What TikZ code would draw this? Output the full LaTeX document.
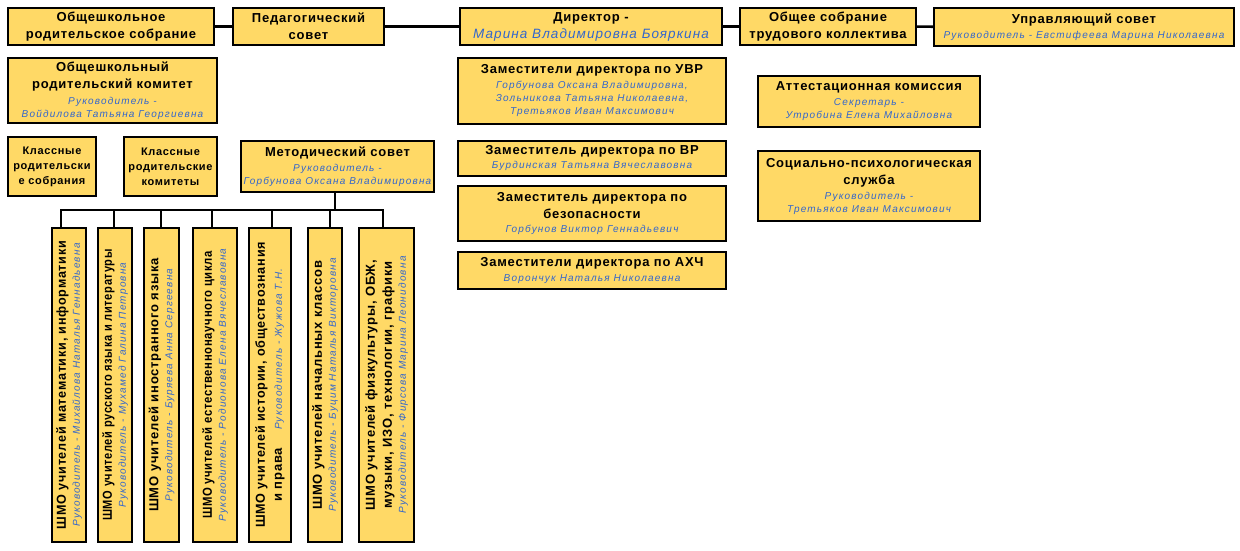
\documentclass[tikz,border=0pt]{standalone}
\usepackage{fontspec}
\usepackage{graphicx}
\setmainfont{Liberation Sans}
\newfontfamily\tfont[LetterSpace=6]{Liberation Sans}
\newfontfamily\bfont[LetterSpace=12]{Liberation Sans}
\newfontfamily\dfont[LetterSpace=8]{Liberation Sans}
\definecolor{boxfill}{RGB}{255,217,102}
\definecolor{nm}{RGB}{51,102,204}
\newcommand\bl[1]{{\bfont\mdseries\itshape\fontsize{10}{13}\selectfont\color{nm}#1}}
\newcommand\dname[1]{{\dfont\mdseries\itshape\fontsize{13.5}{17}\selectfont\color{nm}#1}}
\tikzset{
  box/.style={draw=black, line width=2.2pt, fill=boxfill, inner sep=0pt, align=center,
    font=\tfont\bfseries\fontsize{13}{17}\selectfont},
  sbox/.style={box, font=\tfont\bfseries\fontsize{11}{15}\selectfont},
  vtext/.style={rotate=90, inner sep=0pt, align=center,
    font=\tfont\bfseries\fontsize{13}{17}\selectfont},
  conn/.style={line width=2.6pt}
}
\begin{document}
\begin{tikzpicture}[x=1pt,y=-1pt]
\useasboundingbox (0,0) rectangle (1240,551);
\fill[white] (0,0) rectangle (1240,551);

% top row
\node[box, minimum width=206pt, minimum height=37pt] (ors) at (111,26.5) {Общешкольное\\родительское собрание};
\node[box, minimum width=151pt, minimum height=37pt] (ped) at (308.5,26.5) {Педагогический\\совет};
\node[box, minimum width=262pt, minimum height=37pt] (dir) at (591,26.5) {Директор -\\\dname{Марина Владимировна Бояркина}};
\node[box, minimum width=176pt, minimum height=37pt] (osk) at (828,26.5) {Общее собрание\\трудового коллектива};
\node[box, minimum width=300pt, minimum height=38pt] (us) at (1084,27) {Управляющий совет\\[-2pt]\bl{Руководитель - Евстифеева Марина Николаевна}};

\draw[conn] (ors) -- (ped);
\draw[conn] (ped) -- (dir);
\draw[conn] (dir) -- (osk);
\draw[conn] (osk) -- (us);

% left column
\node[box, minimum width=209pt, minimum height=65pt] (ork) at (112.5,90.5) {Общешкольный\\родительский комитет\\[-1pt]\bl{Руководитель -}\\[-4pt]\bl{Войдилова Татьяна Георгиевна}};
\node[sbox, minimum width=88pt, minimum height=59pt] (krs) at (52,166.5) {Классные\\родительски\\е собрания};
\node[sbox, minimum width=93pt, minimum height=59pt] (krk) at (170.5,166.5) {Классные\\родительские\\комитеты};
\node[box, minimum width=193pt, minimum height=51pt] (ms) at (337.5,166.5) {Методический совет\\[-2pt]\bl{Руководитель -}\\[-4pt]\bl{Горбунова Оксана Владимировна}};

% deputies
\node[box, minimum width=268pt, minimum height=66pt] (uvr) at (592,91) {Заместители директора по УВР\\[-2pt]\bl{Горбунова Оксана Владимировна,}\\[-4pt]\bl{Зольникова Татьяна Николаевна,}\\[-4pt]\bl{Третьяков Иван Максимович}};
\node[box, minimum width=268pt, minimum height=35pt] (vr) at (592,158.5) {Заместитель директора по ВР\\[-3pt]\bl{Бурдинская Татьяна Вячеславовна}};
\node[box, minimum width=268pt, minimum height=55pt] (bez) at (592,213.5) {Заместитель директора по\\безопасности\\[-3pt]\bl{Горбунов Виктор Геннадьевич}};
\node[box, minimum width=268pt, minimum height=37pt] (ahch) at (592,270.5) {Заместители директора по АХЧ\\[-3pt]\bl{Ворончук Наталья Николаевна}};

% right column
\node[box, minimum width=222pt, minimum height=51pt] (att) at (869,101.5) {Аттестационная комиссия\\[-2pt]\bl{Секретарь -}\\[-4pt]\bl{Утробина Елена Михайловна}};
\node[box, minimum width=222pt, minimum height=70pt] (spc) at (869,186) {Социально-психологическая\\служба\\[-2pt]\bl{Руководитель -}\\[-4pt]\bl{Третьяков Иван Максимович}};

% ШМО boxes
\node[box, minimum width=34pt, minimum height=314pt] (s1) at (69,385) {};
\node[box, minimum width=34pt, minimum height=314pt] (s2) at (115,385) {};
\node[box, minimum width=35pt, minimum height=314pt] (s3) at (161.5,385) {};
\node[box, minimum width=44pt, minimum height=314pt] (s4) at (215,385) {};
\node[box, minimum width=42pt, minimum height=314pt] (s5) at (270,385) {};
\node[box, minimum width=34pt, minimum height=314pt] (s6) at (325,385) {};
\node[box, minimum width=55pt, minimum height=314pt] (s7) at (386.5,385) {};

\node[vtext] (t1) at (s1) {\scalebox{0.97}[1]{ШМО учителей математики, информатики}\\[-3pt]\bl{Руководитель - Михайлова Наталья Геннадьевна}};
\node[vtext] (t2) at (s2) {\scalebox{0.85}[1]{ШМО учителей русского языка и литературы}\\[-3pt]\bl{Руководитель - Мухамед Галина Петровна}};
\node[vtext] (t3) at (s3) {ШМО учителей иностранного языка\\[-3pt]\bl{Руководитель - Буряева Анна Сергеевна}};
\node[vtext] (t4) at (s4) {\scalebox{0.87}[1]{ШМО учителей естественнонаучного цикла}\\[-3pt]\bl{Руководитель - Родионова Елена Вячеславовна}};
\node[vtext] (t5) at (s5) {\scalebox{0.97}[1]{ШМО учителей истории, обществознания}\\и права\hspace{18pt}\bl{Руководитель - Жужова Т.Н.}};
\node[vtext] (t6) at (s6) {ШМО учителей начальных классов\\[-3pt]\bl{Руководитель - Буцим Наталья Викторовна}};
\node[vtext] (t7) at (s7) {ШМО учителей физкультуры, ОБЖ,\\музыки, ИЗО, технологии, графики\\[-3pt]\bl{Руководитель - Фирсова Марина Леонидовна}};

% branch from Методический совет
\coordinate (bus) at (335,210);
\draw[conn] ([xshift=-2.5pt]ms.south) -- ([xshift=-2.5pt]ms.south |- bus);
\draw[conn] ([xshift=-8pt]s1.north) -- ++(0,-17) -| ([xshift=-3.5pt]s7.north);
\draw[conn] ([xshift=-1pt]s2.north) -- ([xshift=-1pt]s2.north |- bus);
\draw[conn] ([xshift=-0.5pt]s3.north) -- ([xshift=-0.5pt]s3.north |- bus);
\draw[conn] ([xshift=-3pt]s4.north) -- ([xshift=-3pt]s4.north |- bus);
\draw[conn] ([xshift=2pt]s5.north) -- ([xshift=2pt]s5.north |- bus);
\draw[conn] ([xshift=5pt]s6.north) -- ([xshift=5pt]s6.north |- bus);
\end{tikzpicture}
\end{document}
